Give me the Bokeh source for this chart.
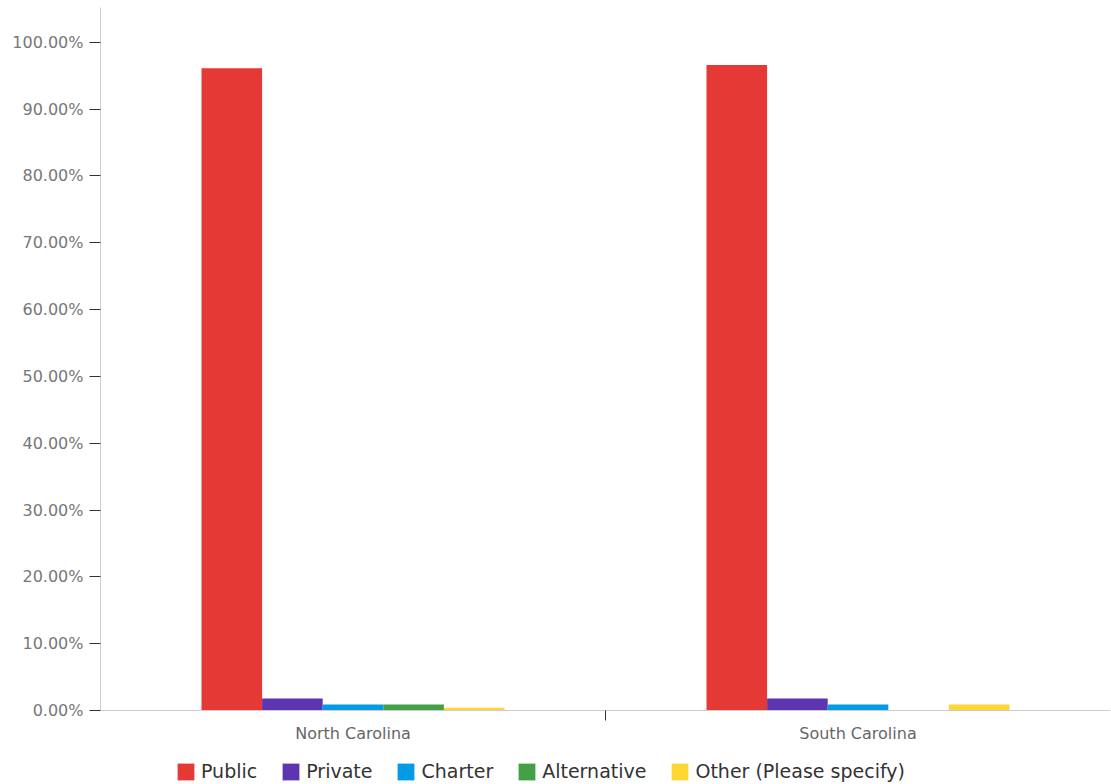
from bokeh.plotting import figure
from bokeh.layouts import column
from bokeh.models import Range1d, FixedTicker, Legend, LegendItem, ColumnDataSource
from bokeh.embed import file_html
from bokeh.resources import INLINE

categories = ["North Carolina", "South Carolina"]
series = ["Public", "Private", "Charter", "Alternative", "Other (Please specify)"]
public = [96.1, 96.6]
private = [1.8, 1.8]
charter = [0.9, 0.9]
alternative = [0.9, 0.0]
other = [0.4, 0.9]
values = [public, private, charter, alternative, other]
colors = ["#E53935", "#5E35B1", "#039BE5", "#43A047", "#FDD835"]
yticks = list(range(0, 101, 10))

FONT = "DejaVu Sans"

p = figure(frame_width=1010, frame_height=703, output_backend="svg", toolbar_location=None,
           x_range=Range1d(0, len(categories)), y_range=Range1d(0, 105.2),
           min_border_top=7, min_border_right=1, min_border_left=100, min_border_bottom=40)
p.outline_line_color = None
p.xgrid.visible = False
p.ygrid.visible = False

bw = 0.12
centers = [i + 0.5 for i in range(len(categories))]
for k, (name, vals, col) in enumerate(zip(series, values, colors)):
    off = (k - (len(series) - 1) / 2) * bw
    src = ColumnDataSource(dict(x=[c + off for c in centers], top=vals))
    p.vbar(x="x", top="top", width=bw, source=src, fill_color=col, line_color=None)

# y axis
p.yaxis.ticker = FixedTicker(ticks=yticks)
p.yaxis.major_label_overrides = {t: f"{t:.2f}%" for t in yticks}
p.yaxis.axis_line_color = "#cccccc"
p.yaxis.major_tick_line_color = "#333333"
p.yaxis.major_tick_out = 11
p.yaxis.major_tick_in = 0
p.yaxis.minor_tick_line_color = None
p.yaxis.major_label_text_font = FONT
p.yaxis.major_label_text_font_size = "16px"
p.yaxis.major_label_text_color = "#777777"
p.yaxis.major_label_standoff = 6

# x axis
p.xaxis.ticker = FixedTicker(ticks=centers, minor_ticks=[1.0])
p.xaxis.major_label_overrides = {c: n for c, n in zip(centers, categories)}
p.xaxis.axis_line_color = "#cccccc"
p.xaxis.major_tick_line_color = None
p.xaxis.major_tick_out = 0
p.xaxis.major_tick_in = 0
p.xaxis.minor_tick_line_color = "#333333"
p.xaxis.minor_tick_out = 10
p.xaxis.minor_tick_in = 0
p.xaxis.major_label_text_font = FONT
p.xaxis.major_label_text_font_size = "16px"
p.xaxis.major_label_text_color = "#666666"
p.xaxis.major_label_standoff = 3

# legend in its own strip below the chart (legend swatches only; the proxy
# glyphs sit outside the visible range of this strip)
lf = figure(frame_width=1111, frame_height=34, output_backend="svg", toolbar_location=None,
            x_range=Range1d(0, 1), y_range=Range1d(0, 1), min_border=0)
lf.outline_line_color = None
lf.axis.visible = False
lf.grid.visible = False
items = []
for name, col in zip(series, colors):
    r = lf.vbar(x=[-5], top=[-5], bottom=-6, width=0.1, fill_color=col, line_color=None)
    items.append(LegendItem(label=name, renderers=[r]))
legend = Legend(items=items, orientation="horizontal", location=(175, 2),
                label_text_font=FONT, label_text_font_size="19px", label_text_color="#333333",
                glyph_width=21, glyph_height=21, label_standoff=5, spacing=23,
                border_line_color=None, background_fill_alpha=0, padding=0, margin=0)
lf.add_layout(legend)

open("out.html", "w").write(file_html(column(p, lf, spacing=0), INLINE))
